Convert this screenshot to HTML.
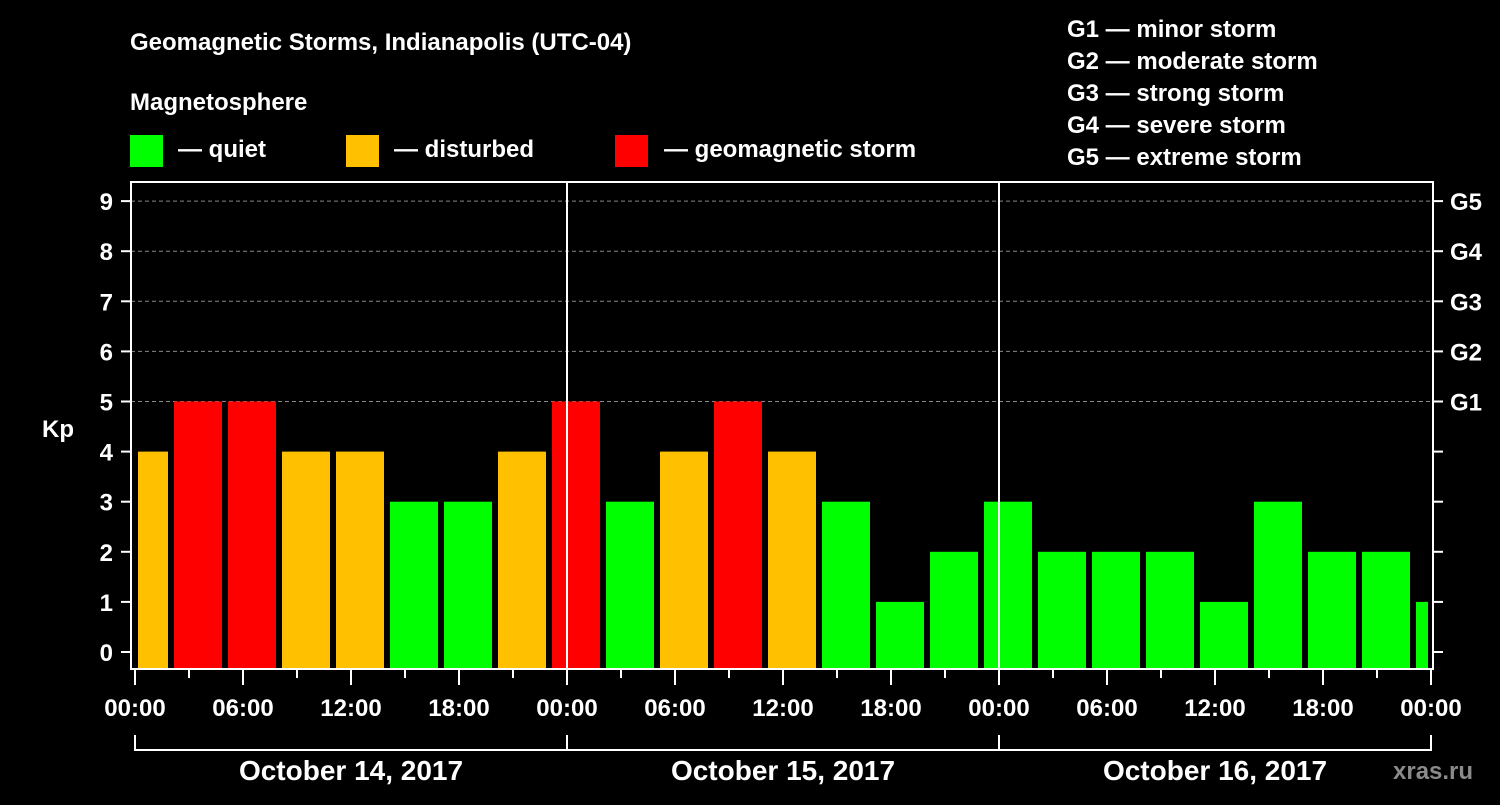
<!DOCTYPE html>
<html><head><meta charset="utf-8"><style>
body{margin:0;background:#000;width:1500px;height:800px;overflow:hidden}
svg text{font-family:"Liberation Sans",sans-serif;font-weight:bold;fill:#fff}
</style></head><body>
<svg id="c" width="1500" height="800" xmlns="http://www.w3.org/2000/svg">
<text x="130" y="50" font-size="24">Geomagnetic Storms, Indianapolis (UTC-04)</text>
<text x="130" y="110" font-size="24">Magnetosphere</text>
<rect x="130" y="135" width="33" height="32" fill="#00ff00"/>
<text x="178" y="157" font-size="24">— quiet</text>
<rect x="346" y="135" width="33" height="32" fill="#ffc000"/>
<text x="394" y="157" font-size="24">— disturbed</text>
<rect x="615" y="135" width="33" height="32" fill="#ff0000"/>
<text x="664" y="157" font-size="24">— geomagnetic storm</text>
<g font-size="24">
<text x="1067" y="37">G1 — minor storm</text>
<text x="1067" y="69">G2 — moderate storm</text>
<text x="1067" y="101">G3 — strong storm</text>
<text x="1067" y="133">G4 — severe storm</text>
<text x="1067" y="165">G5 — extreme storm</text>
</g>
<text x="42" y="437" font-size="24">Kp</text>
<text x="1393" y="779" font-size="24" fill="#888" style="fill:#8a8a8a">xras.ru</text>
<g id="plot"></g>
</svg>
<script>
const kpValues=[4,5,5,4,4,3,3,4,5,3,4,5,4,3,1,2,3,2,2,2,1,3,2,2,1];
const startHour=-1;
const yTicks=[0,1,2,3,4,5,6,7,8,9];
const gLabels=["G1","G2","G3","G4","G5"];
const xLabels=["00:00","06:00","12:00","18:00","00:00","06:00","12:00","18:00","00:00","06:00","12:00","18:00","00:00"];
const dayLabels=["October 14, 2017","October 15, 2017","October 16, 2017"];
const NS="http://www.w3.org/2000/svg";
const g=document.getElementById('plot');
const L=131,R=1433,T=182,B=669;
const x=h=>135+h*18;
const y=v=>652-v*50.1;
function mk(tag,attrs){const e=document.createElementNS(NS,tag);for(const k in attrs)e.setAttribute(k,attrs[k]);g.appendChild(e);return e;}
function col(v){return v>=5?"#ff0000":v>=4?"#ffc000":"#00ff00";}
// grid
for(let v=5;v<=9;v++){const l=mk('line',{x1:L,x2:R,y1:y(v),y2:y(v),stroke:'#888','stroke-dasharray':'4,3','stroke-width':1});

}
// bars
kpValues.forEach((v,i)=>{let h0=startHour+i*3,h1=h0+3;let x0=Math.max(x(h0),x(0))+3,x1=Math.min(x(h1),x(72))-3;
const r=mk('rect',{x:x0,y:y(v),width:x1-x0,height:B-1-y(v),fill:col(v)});

});
// day separators
[24,48].forEach(h=>{const l=mk('line',{x1:x(h),x2:x(h),y1:T,y2:B,stroke:'#fff','stroke-width':2});

});
// frame
const f=mk('rect',{x:L,y:T,width:R-L,height:B-T,fill:'none',stroke:'#fff','stroke-width':2});


// y ticks
yTicks.forEach(v=>{mk('line',{x1:121,x2:L,y1:y(v),y2:y(v),stroke:'#fff','stroke-width':2});
mk('line',{x1:R,x2:1443,y1:y(v),y2:y(v),stroke:'#fff','stroke-width':2});
const t=mk('text',{x:113,y:y(v)+9,'font-size':24,'text-anchor':'end'});t.textContent=v;

});
gLabels.forEach((s,i)=>{const t=mk('text',{x:1450,y:y(5+i)+9,'font-size':24});t.textContent=s;

});
// x ticks
for(let h=0;h<=72;h+=3){mk('line',{x1:x(h),x2:x(h),y1:B,y2:h%6==0?685:678,stroke:'#fff','stroke-width':2});}
xLabels.forEach((s,i)=>{const t=mk('text',{x:x(i*6),y:716,'font-size':24,'text-anchor':'middle'});t.textContent=s;

});
// bracket
mk('line',{x1:x(0),x2:x(72),y1:750,y2:750,stroke:'#fff','stroke-width':2});
[0,24,48,72].forEach(h=>mk('line',{x1:x(h),x2:x(h),y1:735,y2:751,stroke:'#fff','stroke-width':2}));
dayLabels.forEach((s,i)=>{const t=mk('text',{x:x(i*24+12),y:780,'font-size':28,'text-anchor':'middle'});t.textContent=s;

});
</script>
</body></html>
